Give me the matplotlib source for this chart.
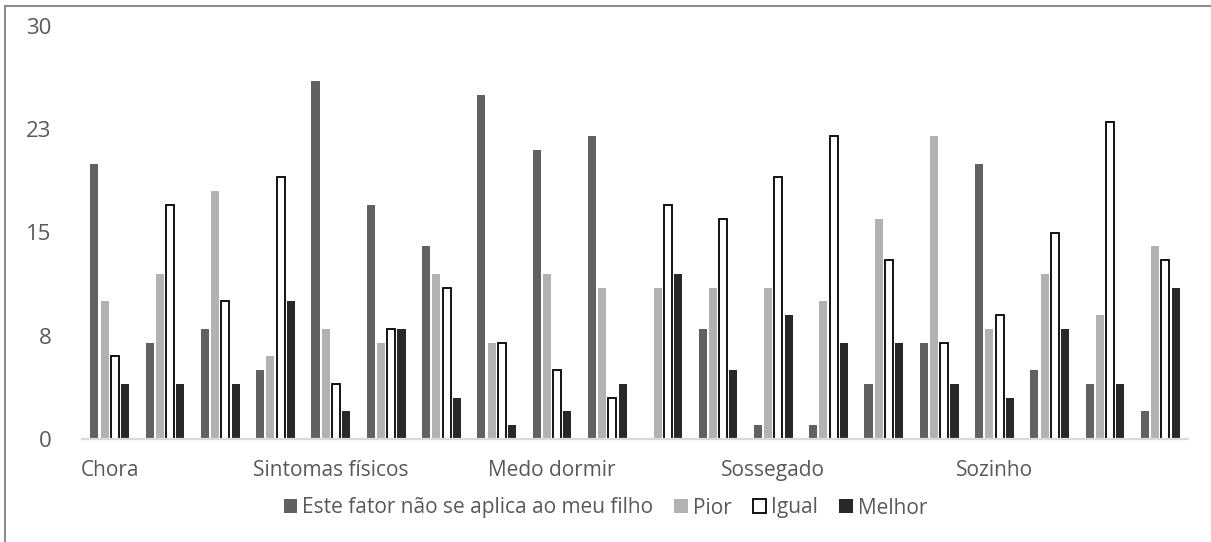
import matplotlib
matplotlib.use("Agg")
import matplotlib.pyplot as plt
from matplotlib.patches import Rectangle
import numpy as np

# -------- DADOS --------
rotulos = ["Chora", "", "", "", "Sintomas físicos", "", "", "", "Medo dormir", "",
           "", "", "Sossegado", "", "", "", "Sozinho", "", "", ""]
nao_aplica = [20, 7, 8, 5, 26, 17, 14, 25, 21, 22, 0, 8, 1, 1, 4, 7, 20, 5, 4, 2]
pior = [10, 12, 18, 6, 8, 7, 12, 7, 12, 11, 11, 11, 11, 10, 16, 22, 8, 12, 9, 14]
igual = [6, 17, 10, 19, 4, 8, 11, 7, 5, 3, 17, 16, 19, 22, 13, 7, 9, 15, 23, 13]
melhor = [4, 4, 4, 10, 2, 8, 3, 1, 2, 4, 12, 5, 9, 7, 7, 4, 3, 8, 4, 11]
series_nomes = ["Este fator não se aplica ao meu filho", "Pior", "Igual", "Melhor"]
y_ticks = [0, 7.5, 15, 22.5, 30]
y_labels = ["0", "8", "15", "23", "30"]

# -------- ESTILO --------
plt.rcParams["font.family"] = ["Open Sans", "DejaVu Sans"]
txt = "#595959"

fig = plt.figure(figsize=(12.11, 5.42), dpi=100)
ax = fig.add_axes([82 / 1211, 1 - 439 / 542, (1188 - 82) / 1211, 413 / 542])

x = np.arange(len(rotulos))
passo = 0.185
larg = 0.145
estilos = [
    dict(color="#616161"),
    dict(color="#b2b2b2"),
    dict(facecolor="white", edgecolor="black", linewidth=1.3),
    dict(color="#282828"),
]
dados = [nao_aplica, pior, igual, melhor]
for k, (vals, nome, est) in enumerate(zip(dados, series_nomes, estilos)):
    ax.bar(x + (k - 1.5) * passo, vals, width=larg, label=nome, **est)

ax.set_xlim(-0.5, len(rotulos) - 0.5)
ax.set_ylim(0, 30)
ax.set_yticks(y_ticks)
ax.set_yticklabels(y_labels)
ax.set_xticks(x)
ax.set_xticklabels(rotulos)
ax.tick_params(axis="both", length=0, colors=txt)
ax.tick_params(axis="y", pad=22, labelsize=16)
ax.tick_params(axis="x", pad=15, labelsize=15)

for s in ["top", "right", "left"]:
    ax.spines[s].set_visible(False)
ax.spines["bottom"].set_color("#d9d9d9")
ax.spines["bottom"].set_linewidth(1.6)

leg = fig.legend(loc="center", bbox_to_anchor=(0.5, 1 - 508 / 542), ncol=4,
                 frameon=False, fontsize=15, handlelength=0.65, handleheight=0.65,
                 handletextpad=0.25, columnspacing=1.0, labelcolor=txt)

# moldura do gráfico (só topo e esquerda visíveis)
fig.add_artist(Rectangle((5 / 1211, -0.5), 2, 1 - 6 / 542 + 0.5,
                         transform=fig.transFigure, fill=False,
                         edgecolor="#8c8c8c", linewidth=1.5, clip_on=False))

fig.savefig("out.png", dpi=100)
